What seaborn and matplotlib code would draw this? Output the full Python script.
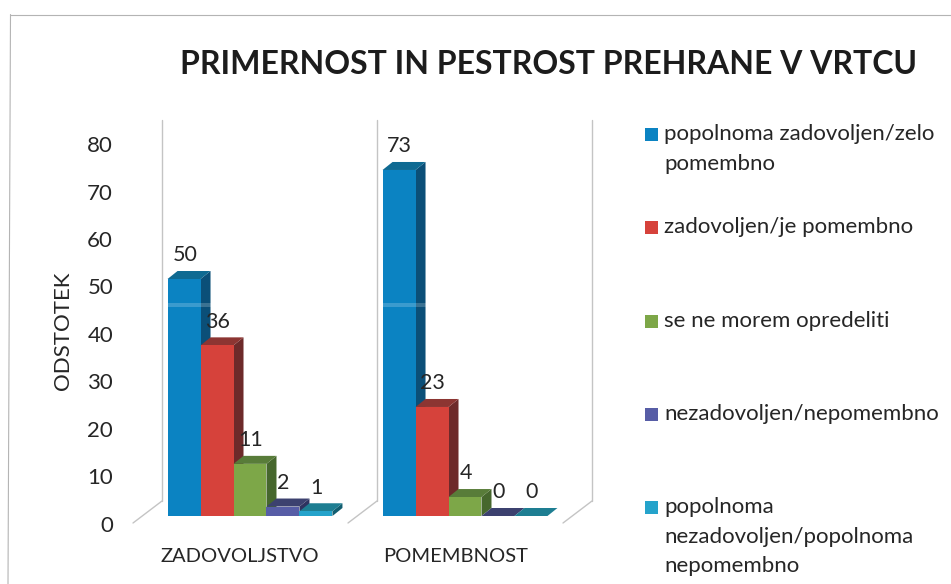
import matplotlib
matplotlib.use("Agg")
import matplotlib.pyplot as plt
from matplotlib.lines import Line2D
from matplotlib.patches import Polygon, Rectangle
from matplotlib.transforms import ScaledTranslation
import pandas as pd
import seaborn as sns

W, H = 951, 584
FONT = "Lato"

title = "PRIMERNOST IN PESTROST PREHRANE V VRTCU"
y_label = "ODSTOTEK"
categories = ["ZADOVOLJSTVO", "POMEMBNOST"]
series_names = [
    "popolnoma zadovoljen/zelo\npomembno",
    "zadovoljen/je pomembno",
    "se ne morem opredeliti",
    "nezadovoljen/nepomembno",
    "popolnoma\nnezadovoljen/popolnoma\nnepomembno",
]
zadovoljstvo = [50, 36, 11, 2, 1]
pomembnost = [73, 23, 4, 0, 0]
y_ticks = [0, 10, 20, 30, 40, 50, 60, 70, 80]
front_colors = ["#0B83C2", "#D6423B", "#7DA748", "#575DA6", "#25A3CB"]
side_colors = ["#0B4F78", "#6D2A2A", "#46672D", "#2F3360", "#125E70"]
top_colors = ["#0F6A92", "#8C3532", "#587C39", "#3C416F", "#1E7E92"]
legend_y_px = [134, 227, 321, 414, 507]

sns.set_theme(style="white")
plt.rcParams["font.family"] = [FONT, "DejaVu Sans"]
text_color = "#262626"

df = pd.DataFrame({
    "kategorija": categories * len(series_names),
    "serija": [s for s in series_names for _ in categories],
    "odstotek": [v for pair in zip(zadovoljstvo, pomembnost) for v in pair],
})

fig = plt.figure(figsize=(W / 100, H / 100), dpi=100, facecolor="white")


def fx(px):
    return px / W


def fy(py):
    return 1 - py / H


ax_left, ax_right, ax_top, ax_bottom = 120, 600, 120, 516
ax = fig.add_axes([fx(ax_left), fy(ax_bottom), (ax_right - ax_left) / W, (ax_bottom - ax_top) / H])

sns.barplot(
    data=df, x="kategorija", y="odstotek", hue="serija", order=categories,
    hue_order=series_names, palette=front_colors, width=0.767, gap=0,
    saturation=1, dodge=True, legend=False, ax=ax, linewidth=0,
)

px_per_cat = 215
px_per_unit = 4.74
ax.set_xlim((ax_left - 250) / px_per_cat, (ax_right - 250) / px_per_cat)
ax.set_ylim(0, (ax_bottom - ax_top) / px_per_unit)

dx = 10 / px_per_cat
dy = 8 / px_per_unit

for i, container in enumerate(ax.containers):
    z = 3 + i * 2
    for j, bar in enumerate(container):
        x0, x1 = bar.get_x(), bar.get_x() + bar.get_width()
        h = bar.get_height()
        bar.set_zorder(z + 1)
        ax.add_patch(Polygon([(x1, 0), (x1 + dx, dy), (x1 + dx, h + dy), (x1, h)],
                             closed=True, fc=side_colors[i], ec="none", zorder=z))
        ax.add_patch(Polygon([(x0, h), (x1, h), (x1 + dx, h + dy), (x0 + dx, h + dy)],
                             closed=True, fc=top_colors[i], ec="none", zorder=z + 0.5))
        ax.annotate(str(h if h % 1 else int(h)), xy=((x0 + x1) / 2, h), xytext=(0.5, 17),
                    textcoords="offset points", ha="center", va="center",
                    fontsize=15.5, color=text_color, zorder=30)
        if i == 0:  # light streak across the tall blue columns
            ax.add_patch(Rectangle((x0, 44.0), x1 - x0 + dx, 1.0, fc="white", ec="none",
                                   alpha=0.2, zorder=z + 1.5))

ax.set_xlabel("")
ax.set_ylabel("")
ax.set_yticks(y_ticks)
ax.set_yticklabels([str(t) for t in y_ticks], fontsize=16, color=text_color)
ax.set_xticks([])
ax.tick_params(axis="y", length=0, pad=5)
for lab in ax.get_yticklabels():
    lab.set_transform(lab.get_transform() + ScaledTranslation(0, -7.5 / 100, fig.dpi_scale_trans))
sns.despine(ax=ax, left=True, bottom=True)
ax.patch.set_alpha(0)

# category labels
for name, cx in zip(categories, [240, 456]):
    fig.text(fx(cx), fy(557), name, ha="center", va="center", fontsize=14.5, color=text_color)

fig.text(fx(63), fy(331), y_label, rotation=90, ha="center", va="center", fontsize=16, color=text_color)
fig.text(fx(548), fy(65), title, ha="center", va="center", fontsize=23, fontweight="bold", color="#1c1c1c")

# chart wall lines
wall = "#c4c4c4"
for x in (162, 377, 592):
    fig.add_artist(Line2D([fx(x), fx(x)], [fy(120), fy(501)], color=wall, lw=1))
    fig.add_artist(Line2D([fx(x), fx(x - 29)], [fy(501), fy(523)], color=wall, lw=1))

# page frame
frame = "#b4b4b4"
fig.add_artist(Line2D([fx(10), fx(951)], [fy(14.5), fy(14.5)], color=frame, lw=0.8))
fig.add_artist(Line2D([fx(10.5), fx(8)], [fy(14.5), fy(584)], color=frame, lw=0.8))

# legend
for name, color, py in zip(series_names, front_colors, legend_y_px):
    fig.add_artist(Rectangle((fx(645), fy(py + 7)), 13 / W, 13 / H, transform=fig.transFigure,
                             fc=color, ec="none"))
    fig.text(fx(664), fy(py - 10), name, ha="left", va="top", fontsize=16,
             linespacing=1.6, color=text_color)

fig.savefig("out.png", dpi=100, facecolor="white")
